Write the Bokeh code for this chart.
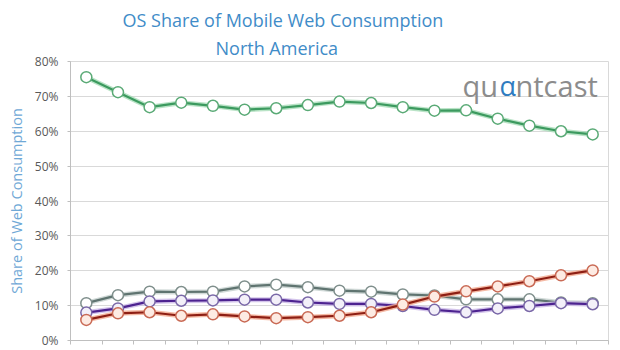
from bokeh.plotting import figure
from bokeh.models import Label, Title, FixedTicker, PrintfTickFormatter, ColumnDataSource, CustomLabelingPolicy
from bokeh.embed import file_html
from bokeh.resources import INLINE

periods = ["Jan 11", "Feb 11", "Mar 11", "Apr 11", "May 11", "Jun 11", "Jul 11", "Aug 11",
           "Sep 11", "Oct 11", "Nov 11", "Dec 11", "Jan 12", "Feb 12", "Mar 12", "Apr 12", "May 12"]
green = [75.5, 71.2, 66.9, 68.2, 67.3, 66.2, 66.6, 67.5, 68.5, 68.1, 66.9, 65.9, 66.0, 63.6, 61.6, 60.0, 59.1]
gray = [10.7, 13.0, 14.0, 13.9, 14.0, 15.5, 16.0, 15.3, 14.3, 14.0, 13.2, 12.9, 11.8, 11.8, 11.8, 10.9, 10.7]
purple = [8.0, 9.2, 11.2, 11.4, 11.5, 11.7, 11.7, 10.9, 10.5, 10.5, 9.9, 8.8, 8.1, 9.2, 9.9, 10.7, 10.4]
red = [5.9, 7.8, 8.1, 7.1, 7.5, 6.9, 6.4, 6.7, 7.1, 8.1, 10.3, 12.6, 14.1, 15.5, 17.0, 18.7, 20.1]
y_ticks = [0, 10, 20, 30, 40, 50, 60, 70, 80]

xs = list(range(1, len(periods) + 1))

p = figure(width=620, height=350, output_backend="svg", toolbar_location=None,
           x_range=(0.5, len(periods) + 0.5), y_range=(0, 80),
           min_border_left=70, min_border_right=12, min_border_top=61, min_border_bottom=10)
p.background_fill_color = "white"
p.border_fill_color = "white"
p.outline_line_color = "#d9d9d9"

p.xgrid.visible = False
p.ygrid.grid_line_color = "#d9d9d9"
p.ygrid.ticker = FixedTicker(ticks=y_ticks)

p.yaxis.ticker = FixedTicker(ticks=y_ticks)
p.yaxis.formatter = PrintfTickFormatter(format="%d%%")
p.yaxis.axis_line_color = "#bfbfbf"
p.yaxis.major_tick_line_color = "#bfbfbf"
p.yaxis.major_tick_out = 3
p.yaxis.major_tick_in = 0
p.yaxis.minor_tick_line_color = None
p.yaxis.major_label_text_font = "Open Sans"
p.yaxis.major_label_text_font_size = "12px"
p.yaxis.major_label_text_color = "#595959"
p.yaxis.major_label_standoff = 9
p.yaxis.axis_label = "Share of Web Consumption"
p.yaxis.axis_label_text_font = "Open Sans"
p.yaxis.axis_label_text_font_style = "normal"
p.yaxis.axis_label_text_font_size = "14.5px"
p.yaxis.axis_label_text_color = "#6fa8d6"
p.yaxis.axis_label_standoff = 6

p.xaxis.ticker = FixedTicker(ticks=[i + 0.5 for i in range(len(periods) + 1)])
p.xaxis.major_label_policy = CustomLabelingPolicy(code="return []")
p.xaxis.major_label_text_font_size = "1px"
p.xaxis.major_label_standoff = 0
p.xaxis.axis_line_color = "#bfbfbf"
p.xaxis.major_tick_line_color = "#bfbfbf"
p.xaxis.major_tick_out = 4
p.xaxis.major_tick_in = 0
p.xaxis.minor_tick_line_color = None

series = [
    (green, "#3c9a5f", "#a8dcb8", "#5aaa76", "#ffffff"),
    (gray, "#5f7470", "#c4d0cd", "#7f8f8c", "#ffffff"),
    (purple, "#4d2390", "#c9b6e6", "#7a68a8", "#f3f0f9"),
    (red, "#8e1f14", "#f2a98f", "#c96a55", "#fdebe3"),
]
for vals, lc, glow, mc, mf in series:
    src = ColumnDataSource(dict(x=xs, y=vals))
    p.line("x", "y", source=src, line_color=glow, line_width=5, line_alpha=0.8)
    p.line("x", "y", source=src, line_color=lc, line_width=2.2)
    p.scatter("x", "y", source=src, size=11, fill_color=mf, line_color=mc, line_width=1.5)

# Two-line title (inner line added first)
p.add_layout(Title(text="North America", text_font="Open Sans", text_font_size="18px",
                   text_font_style="normal", text_color="#3f8cc8", align="left",
                   offset=145, standoff=4), "above")
p.add_layout(Title(text="OS Share of Mobile Web Consumption", text_font="Open Sans",
                   text_font_size="18px", text_font_style="normal", text_color="#3f8cc8",
                   align="left", offset=52, standoff=0), "above")

# Logo (screen units relative to frame)
fl, fb = 70, 340
def lab(text, x, y, size, color):
    p.add_layout(Label(x=x - fl, y=fb - y, x_units="screen", y_units="screen", text=text,
                       text_font="Open Sans", text_font_size=size, text_color=color,
                       text_align="left", text_baseline="alphabetic"))

lab("qu", 462, 85, "29px", "#8c8c8c")
lab("\u03b1", 499, 85, "27px", "#2f7cc0")
lab("ntcast", 515, 85, "29px", "#8c8c8c")

open("out.html", "w").write(file_html(p, INLINE))
